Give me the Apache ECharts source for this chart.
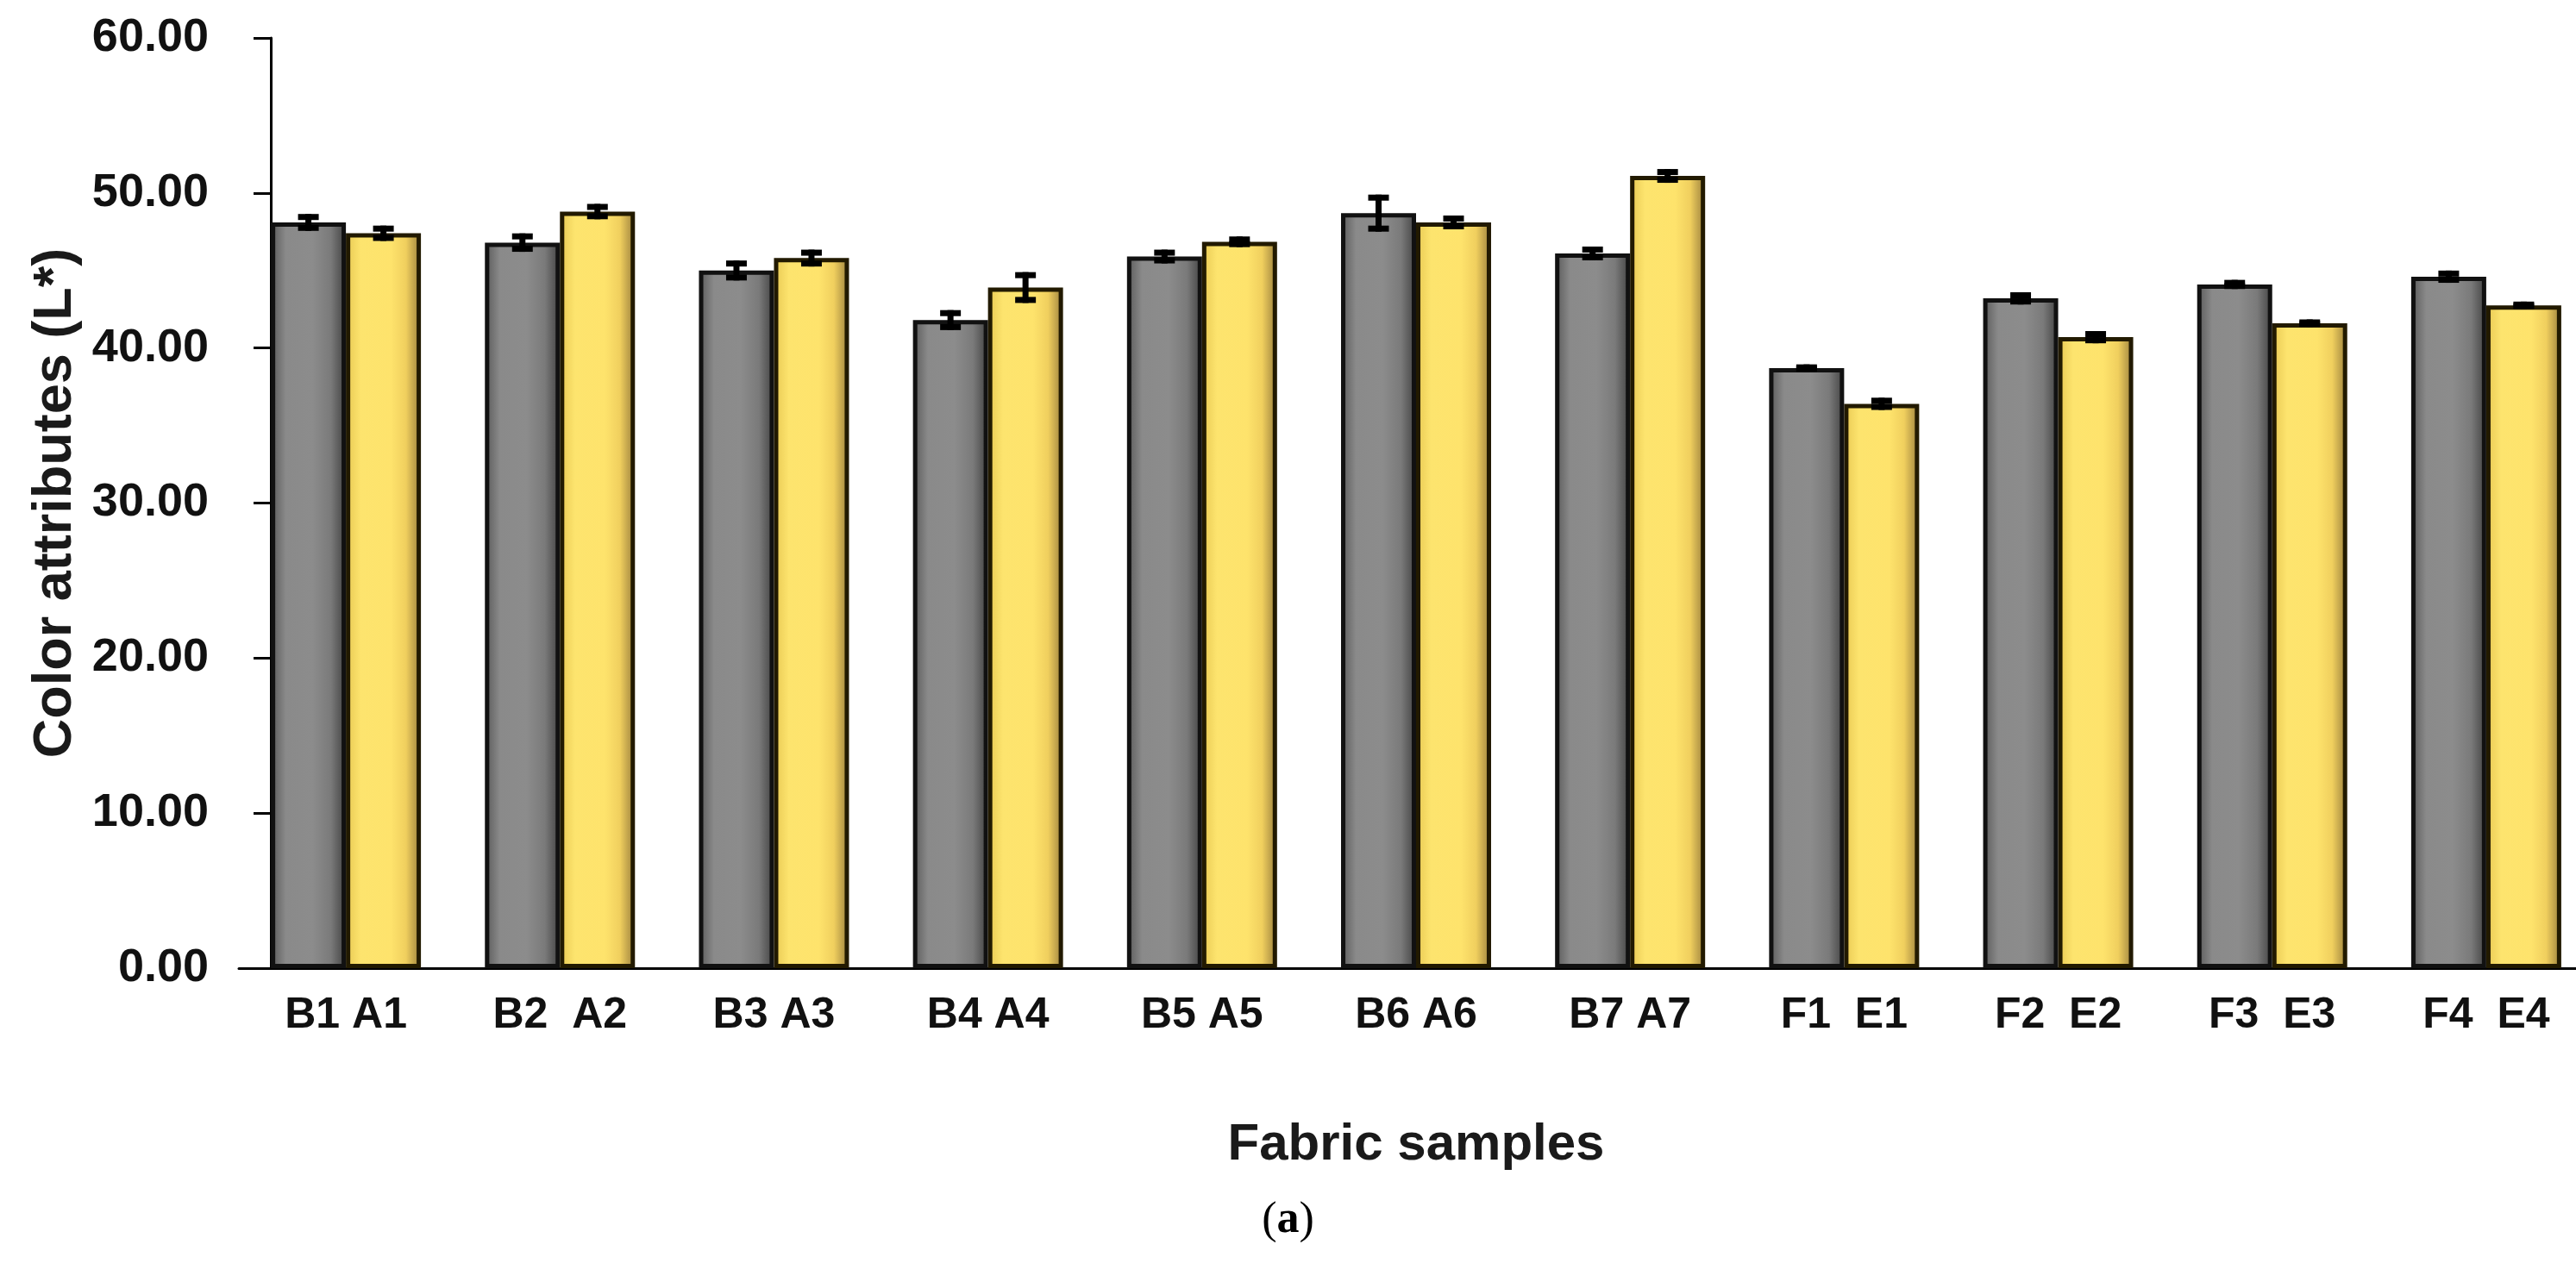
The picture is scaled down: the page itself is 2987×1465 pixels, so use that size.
<!DOCTYPE html>
<html>
<head>
<meta charset="utf-8">
<script src="https://cdn.jsdelivr.net/npm/echarts@6/dist/echarts.min.js"></script>
<style>
html,body{margin:0;padding:0;background:#fff;}
#chart{width:2987px;height:1465px;}
</style>
</head>
<body>
<div id="chart"></div>
<script>
// ---- data ----
const categories = ['B1 A1','B2  A2','B3 A3','B4 A4','B5 A5','B6 A6','B7 A7','F1  E1','F2  E2','F3  E3','F4  E4'];
const grayValues   = [48.1, 46.8, 45.0, 41.8, 45.9, 48.7, 46.1, 38.7, 43.2, 44.1, 44.6];
const grayErrors   = [0.35, 0.4, 0.45, 0.45, 0.25, 1.0, 0.25, 0.05, 0.2, 0.1, 0.2];
const yellowValues = [47.4, 48.8, 45.8, 43.9, 46.85, 48.1, 51.1, 36.4, 40.7, 41.6, 42.75];
const yellowErrors = [0.3, 0.3, 0.35, 0.8, 0.15, 0.25, 0.25, 0.2, 0.2, 0.05, 0.05];
const yTicks = [0, 10, 20, 30, 40, 50, 60];

// ---- style constants ----
const BAR_W = 87;
const NARROW = "'Liberation Sans Narrow','Arial Narrow','Liberation Sans',Arial,sans-serif";
const SANS = "'Liberation Sans',Arial,sans-serif";

const grayFill = new echarts.graphic.LinearGradient(0,0,1,0,[
  {offset:0,color:'#2e2e2e'},{offset:0.07,color:'#6a6a6a'},{offset:0.2,color:'#8a8a8a'},
  {offset:0.55,color:'#8c8c8c'},{offset:0.8,color:'#7a7a7a'},{offset:0.93,color:'#555555'},{offset:1,color:'#333333'}]);
const yellowFill = new echarts.graphic.LinearGradient(0,0,1,0,[
  {offset:0,color:'#b89a3a'},{offset:0.07,color:'#efd25c'},{offset:0.2,color:'#fde46e'},
  {offset:0.6,color:'#fee36c'},{offset:0.8,color:'#f0cf5e'},{offset:0.93,color:'#b79a48'},{offset:1,color:'#6e5a22'}]);

function errRenderer(sign){
  return function(params, api){
    const i = api.value(0), v = api.value(1), e = api.value(2);
    const c = api.coord([i, v]);
    const hi = api.coord([i, v + e]);
    const lo = api.coord([i, v - e]);
    const x = c[0] + sign * BAR_W / 2;
    const st = {stroke:'#000', lineWidth:7};
    return {type:'group', children:[
      {type:'line', shape:{x1:x, y1:hi[1]-3.5, x2:x, y2:lo[1]+3.5}, style:st},
      {type:'line', shape:{x1:x-12, y1:hi[1], x2:x+12, y2:hi[1]}, style:st},
      {type:'line', shape:{x1:x-12, y1:lo[1], x2:x+12, y2:lo[1]}, style:st}
    ]};
  };
}

const chart = echarts.init(document.getElementById('chart'), null, {renderer:'canvas'});
chart.setOption({
  backgroundColor:'#ffffff',
  animation:false,
  grid:{left:277, right:-20, top:44, bottom:342, containLabel:false, outerBoundsMode:'none'},
  xAxis:{
    type:'category', data:categories,
    axisLine:{lineStyle:{color:'#000', width:3}},
    axisTick:{show:false},
    axisLabel:{color:'#111', fontFamily:SANS, fontWeight:'bold', fontSize:50, margin:30},
    name:'Fabric samples', nameLocation:'middle', nameGap:175,
    nameTextStyle:{color:'#1a1a1a', fontFamily:SANS, fontWeight:'bold', fontSize:60}
  },
  yAxis:{
    type:'value', min:0, max:60, interval:10, offset:-37,
    axisLine:{show:true, lineStyle:{color:'#000', width:3}},
    axisTick:{show:true, length:20, lineStyle:{color:'#000', width:3}},
    splitLine:{show:false},
    axisLabel:{color:'#111', fontFamily:NARROW, fontWeight:'bold', fontSize:54, margin:72,
      formatter:function(v){ return yTicks.indexOf(v) >= 0 ? v.toFixed(2) : ''; }},
    name:'Color attributes (L*)', nameLocation:'middle', nameGap:218,
    nameTextStyle:{color:'#1a1a1a', fontFamily:SANS, fontWeight:'bold', fontSize:63}
  },
  series:[
    {type:'bar', name:'gray', data:grayValues, barWidth:BAR_W, barGap:'0%',
     itemStyle:{color:grayFill, borderColor:'#111', borderWidth:5}},
    {type:'bar', name:'yellow', data:yellowValues, barWidth:BAR_W, barGap:'0%',
     itemStyle:{color:yellowFill, borderColor:'#221a00', borderWidth:5}},
    {type:'custom', name:'grayErr', renderItem:errRenderer(-1),
     data:grayValues.map(function(v,i){return [i, v, grayErrors[i]];}), z:5},
    {type:'custom', name:'yellowErr', renderItem:errRenderer(1),
     data:yellowValues.map(function(v,i){return [i, v, yellowErrors[i]];}), z:5}
  ],
  graphic:[{
    type:'text', left:'center', top:1390,
    style:{text:'({a|a})', fontFamily:"'Liberation Serif','Times New Roman',serif", fontSize:52, fill:'#000',
      rich:{a:{fontFamily:"'Liberation Serif','Times New Roman',serif", fontSize:52, fontWeight:'bold', fill:'#000'}}}
  }]
});
</script>
</body>
</html>
